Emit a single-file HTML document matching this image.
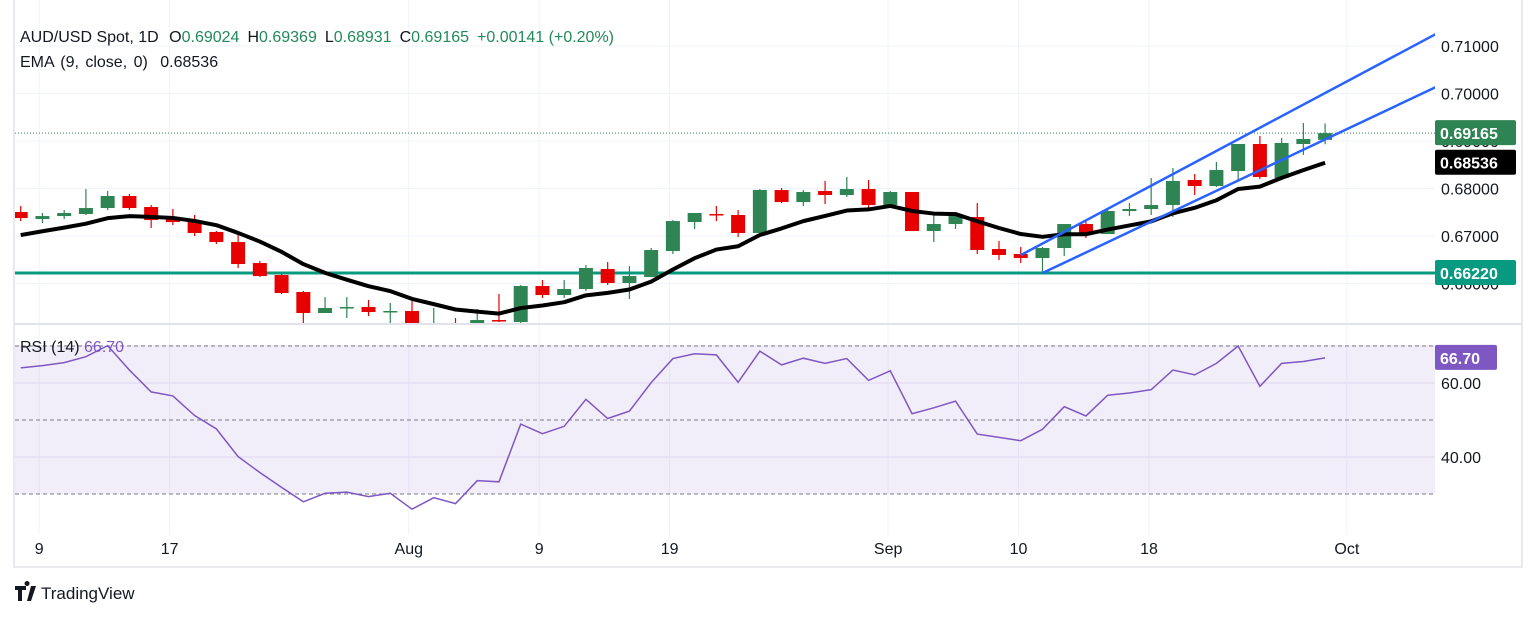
<!DOCTYPE html>
<html><head><meta charset="utf-8"><style>
html,body{margin:0;padding:0;background:#fff;}
svg{display:block;font-family:"Liberation Sans",sans-serif;}
</style></head><body>
<svg id="chart" width="1536" height="618" viewBox="0 0 1536 618" xmlns="http://www.w3.org/2000/svg">
<defs>
<clipPath id="mainClip"><rect x="15" y="0" width="1420" height="323"/></clipPath>
<clipPath id="rsiClip"><rect x="15" y="325" width="1420" height="210"/></clipPath>
</defs>
<rect x="0" y="0" width="1536" height="618" fill="#fff"/>
<g id="grid"></g>
<rect x="15" y="345" width="1420" height="149" fill="#7e57c2" fill-opacity="0.1"/>
<g id="rsiGuides"></g>
<g id="main" clip-path="url(#mainClip)"></g>
<g id="rsi" clip-path="url(#rsiClip)"></g>
<g id="axes"></g>
<line x1="14" y1="324" x2="1522" y2="324" stroke="#e0e3eb" stroke-width="2"/>
<rect x="14" y="-2" width="1508" height="569" fill="none" stroke="#e0e3eb" stroke-width="1.5"/>
<text x="20" y="42" font-size="16" fill="#131722">AUD/USD Spot, 1D <tspan dx="6">O</tspan><tspan fill="#22895a">0.69024</tspan><tspan dx="8">H</tspan><tspan fill="#22895a">0.69369</tspan><tspan dx="8">L</tspan><tspan fill="#22895a">0.68931</tspan><tspan dx="8">C</tspan><tspan fill="#22895a">0.69165</tspan><tspan dx="8" fill="#22895a">+0.00141 (+0.20%)</tspan></text>
<text x="20" y="67" font-size="16" fill="#131722" word-spacing="2">EMA (9, close, 0) <tspan dx="6">0.68536</tspan></text>
<text x="20" y="352" font-size="16" fill="#131722">RSI (14) <tspan fill="#7e57c2">66.70</tspan></text>
<g>
<path d="M15 586h11v4h-4v11h-4v-11h-3z M27 586a2.5 2.5 0 1 1 0.1 0z M31 586h5l-5 15h-4z" fill="#131722"/>
<text x="41" y="599" font-size="17" fill="#131722">TradingView</text>
</g>
</svg>
<script>
const openP=[0.67505,0.67357,0.67420,0.67463,0.67589,0.67842,0.67610,0.67357,0.67294,0.67084,0.66873,0.66431,0.66178,0.65821,0.65379,0.65484,0.65505,0.65400,0.65421,0.65021,0.65126,0.65168,0.65231,0.65189,0.65947,0.65757,0.65884,0.66305,0.66010,0.66136,0.66684,0.67294,0.67463,0.67442,0.67063,0.67968,0.67715,0.67947,0.67863,0.67989,0.67652,0.67926,0.67105,0.67252,0.67400,0.66726,0.66621,0.66536,0.66747,0.67252,0.67042,0.67526,0.67568,0.67652,0.68179,0.68052,0.68368,0.68937,0.68221,0.68937,0.69024];
const highP=[0.67631,0.67484,0.67547,0.67989,0.67947,0.67884,0.67652,0.67568,0.67442,0.67105,0.67042,0.66473,0.66199,0.65842,0.65715,0.65715,0.65652,0.65589,0.65631,0.65484,0.65273,0.65463,0.65779,0.65968,0.66073,0.66073,0.66389,0.66452,0.66368,0.66747,0.67336,0.67484,0.67631,0.67547,0.67989,0.68010,0.67968,0.68158,0.68242,0.68179,0.67947,0.67926,0.67505,0.67505,0.67694,0.66894,0.66768,0.66768,0.67252,0.67336,0.67547,0.67694,0.68221,0.68431,0.68305,0.68558,0.68937,0.69105,0.69063,0.69379,0.69369];
const lowP=[0.67315,0.67273,0.67357,0.67442,0.67547,0.67547,0.67168,0.67231,0.67000,0.66831,0.66326,0.66136,0.65779,0.65168,0.65379,0.65273,0.65316,0.65168,0.64915,0.64915,0.64900,0.65084,0.65189,0.65168,0.65694,0.65694,0.65842,0.65968,0.65673,0.66136,0.66621,0.67147,0.67315,0.66979,0.67063,0.67694,0.67631,0.67673,0.67821,0.67547,0.67589,0.67105,0.66873,0.67147,0.66621,0.66494,0.66431,0.66220,0.66579,0.66958,0.67042,0.67420,0.67442,0.67400,0.67863,0.68031,0.68179,0.68200,0.68200,0.68705,0.68931];
const closeP=[0.67378,0.67420,0.67484,0.67589,0.67842,0.67589,0.67336,0.67294,0.67063,0.66873,0.66410,0.66157,0.65800,0.65379,0.65484,0.65505,0.65400,0.65421,0.65021,0.65126,0.65000,0.65231,0.65200,0.65947,0.65757,0.65884,0.66326,0.66010,0.66157,0.66705,0.67315,0.67484,0.67442,0.67063,0.67968,0.67715,0.67926,0.67863,0.67989,0.67652,0.67926,0.67105,0.67252,0.67420,0.66705,0.66600,0.66536,0.66747,0.67252,0.67042,0.67526,0.67568,0.67652,0.68158,0.68052,0.68389,0.68937,0.68242,0.68958,0.69042,0.69165];
const emaSeed=0.66930;
const rsiValues=[64.1,64.7,65.5,67.1,70.1,63.5,57.6,56.5,51.2,47.6,40.1,35.8,31.8,27.9,30.2,30.5,29.3,30.2,25.9,29.0,27.4,33.6,33.3,48.9,46.3,48.3,55.6,50.4,52.4,60.1,66.6,67.9,67.6,60.2,68.6,64.9,66.7,65.3,66.6,60.7,63.3,51.7,53.3,55.1,46.2,45.3,44.4,47.5,53.6,51.1,56.7,57.3,58.2,63.5,62.2,65.3,70.0,59.1,65.3,65.8,66.8];
const priceTicks=[0.71,0.70,0.69,0.68,0.67,0.66];
const priceTickLabels=["0.71000","0.70000","0.69000","0.68000","0.67000","0.66000"];
const rsiTicks=[60,40];
const rsiTickLabels=["60.00","40.00"];
const rsiGuideLevels=[70,50,30];
const dateIdx=[0.85,6.85,17.85,23.85,29.85,39.9,45.9,51.9,61];
const dateLabels=["9","17","Aug","9","19","Sep","10","18","Oct"];
const supportLevel=0.6622;
const channelUpper=[[46,0.66597],[65.1,0.71253]];
const channelLower=[[47,0.66220],[65.1,0.70137]];

const NS="http://www.w3.org/2000/svg";
const xS=i=>20.7+i*21.74;
const yP=p=>46+(0.71-p)*4750;
const yR=v=>383+(60-v)*3.7;
function mk(tag,attrs,parent){const e=document.createElementNS(NS,tag);for(const k in attrs)e.setAttribute(k,attrs[k]);parent.appendChild(e);return e;}
const grid=document.getElementById('grid'),main=document.getElementById('main'),rsi=document.getElementById('rsi'),axes=document.getElementById('axes'),guides=document.getElementById('rsiGuides');

priceTicks.forEach((p,k)=>{
  const l=mk('line',{x1:15,x2:1435,y1:yP(p),y2:yP(p),stroke:'#f0f3fa','stroke-width':1},grid);
  
  
  const t=mk('text',{x:1441,y:yP(p)+6,'font-size':16,fill:'#131722'},axes);
  t.textContent=priceTickLabels[k];
  
  
});
rsiTicks.forEach((v,k)=>{
  const l=mk('line',{x1:15,x2:1435,y1:yR(v),y2:yR(v),stroke:'#e8e4f3','stroke-width':1},grid);
  
  
  const t=mk('text',{x:1441,y:yR(v)+6,'font-size':16,fill:'#131722'},axes);
  t.textContent=rsiTickLabels[k];
  
  
});
rsiGuideLevels.forEach(v=>{
  const l=mk('line',{x1:15,x2:1435,y1:yR(v),y2:yR(v),stroke:'#787b86','stroke-width':1,'stroke-dasharray':'4 3'},guides);
  
  
});
dateIdx.forEach((d,k)=>{
  const x=xS(d);
  const l=mk('line',{x1:x,x2:x,y1:0,y2:535,stroke:'#f0f3fa','stroke-width':1},grid);
  
  
  const t=mk('text',{x:x,y:554,'font-size':16,fill:'#131722','text-anchor':'middle'},axes);
  t.textContent=dateLabels[k];
  
  
});

const sl=mk('line',{x1:15,x2:1435,y1:yP(supportLevel),y2:yP(supportLevel),stroke:'#089981','stroke-width':3},main);


const lastC=closeP[closeP.length-1];
const lp=mk('line',{x1:15,x2:1435,y1:yP(lastC),y2:yP(lastC),stroke:'#2e8b57','stroke-width':1,'stroke-dasharray':'1 2'},main);



closeP.forEach((c,i)=>{
  const o=openP[i],up=c>=o,col=up?'#2e8553':'#e60000';
  const x=xS(i);
  const g=mk('g',{},main);
  
  
  mk('line',{x1:x,x2:x,y1:yP(highP[i]),y2:yP(lowP[i]),stroke:col,'stroke-width':1.2},g);
  const top=yP(Math.max(o,c)),bot=yP(Math.min(o,c));
  mk('rect',{x:x-7,y:top,width:14,height:Math.max(1.5,bot-top),fill:col},g);
});

let e=emaSeed;const emaPts=[];
closeP.forEach((c,i)=>{e=e+0.2*(c-e);emaPts.push(xS(i)+','+yP(e));});
const em=mk('polyline',{points:emaPts.join(' '),fill:'none',stroke:'#000','stroke-width':4,'stroke-linejoin':'round'},main);



[channelUpper,channelLower].forEach(ch=>{
  const l=mk('line',{x1:xS(ch[0][0]),y1:yP(ch[0][1]),x2:xS(ch[1][0]),y2:yP(ch[1][1]),stroke:'#2962ff','stroke-width':2.5},main);
  
  
});

const rl=mk('polyline',{points:rsiValues.map((v,i)=>xS(i)+','+yR(v)).join(' '),fill:'none',stroke:'#7e57c2','stroke-width':1.5},rsi);



function badge(y,txt,bg,w,name){
  const g=mk('g',{},axes);
  
  
  mk('rect',{x:1435,y:y-13,width:w,height:25,rx:2,fill:bg},g);
  const t=mk('text',{x:1440,y:y+6,'font-size':16,'font-weight':'bold',fill:'#fff'},g);
  t.textContent=txt;
}
badge(yP(lastC),'0.69165','#2e8553',81,'last-price-badge');
badge(yP(e),'0.68536','#000',81,'ema-badge');
badge(yP(supportLevel),'0.66220','#089981',81,'support-badge');
badge(yR(rsiValues[rsiValues.length-1]),'66.70','#7e57c2',62,'rsi-badge');
</script>
</body></html>
